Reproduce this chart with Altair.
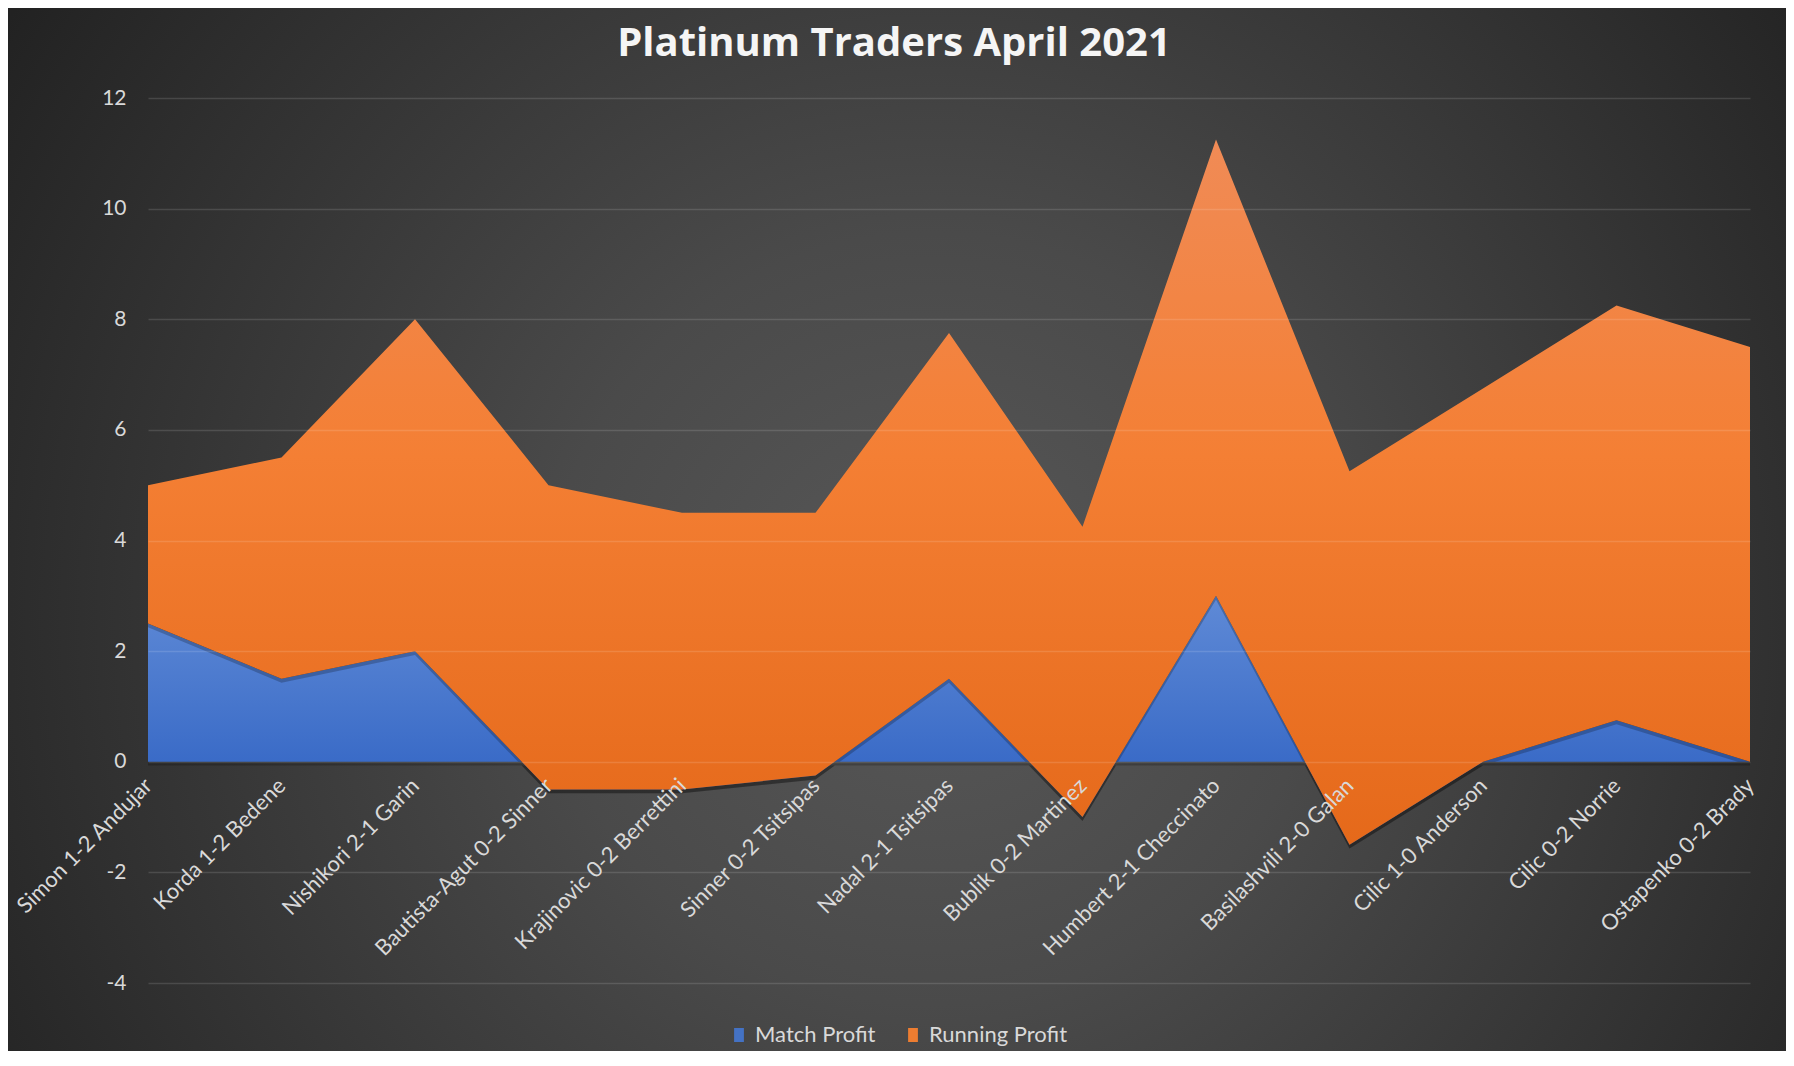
import altair as alt
import pandas as pd

# ---- data ----
categories = [
    "Simon 1-2 Andujar", "Korda 1-2 Bedene", "Nishikori 2-1 Garin",
    "Bautista-Agut 0-2 Sinner", "Krajinovic 0-2 Berrettini", "Sinner 0-2 Tsitsipas",
    "Nadal 2-1 Tsitsipas", "Bublik 0-2 Martinez", "Humbert 2-1 Checcinato",
    "Basilashvili 2-0 Galan", "Cilic 1-0 Anderson", "Cilic 0-2 Norrie",
    "Ostapenko 0-2 Brady",
]
match_profit = [2.5, 1.5, 2, -0.5, -0.5, -0.25, 1.5, -1, 3, -1.5, 0, 0.75, 0]
running_profit = [2.5, 4, 6, 5.5, 5, 4.75, 6.25, 5.25, 8.25, 6.75, 6.75, 7.5, 7.5]
series_names = ["Match Profit", "Running Profit"]
series_colors = ["#4472c4", "#ed7d31"]
y_ticks = [-4, -2, 0, 2, 4, 6, 8, 10, 12]

df = pd.DataFrame({
    "match": categories,
    "match_profit": match_profit,
    "running_profit": running_profit,
})

W, H = 1602, 885
PAD_L, PAD_T, PAD_R, PAD_B = 140, 90, 36, 68
FONT = "Lato"
LABEL = "#d9d9d9"

yscale = alt.Scale(domain=[-4, 12], nice=False, zero=False)
xenc = alt.X(
    "match:N", sort=categories,
    scale=alt.Scale(type="point", padding=0),
    axis=alt.Axis(
        title=None, labelAngle=-45, labelAlign="right", labelBaseline="middle",
        labelPadding=20, labelFontSize=22, labelColor=LABEL, labelFont=FONT,
        ticks=False, domain=False, grid=False, labelOverlap=False, labelLimit=0,
        offset=-(H * 4 / 16), zindex=2,
    ),
)
yaxis = alt.Axis(
    title=None, values=y_ticks, labelFontSize=21, labelColor=LABEL, labelFont=FONT,
    labelExpr="'' + datum.value",
    labelPadding=22, ticks=False, domain=False, grid=True, gridColor="#ffffff",
    gridOpacity=0.13, gridWidth=1.5, zindex=1,
)

base = alt.Chart(df).transform_calculate(
    total="datum.match_profit + datum.running_profit",
    total_sh="datum.match_profit + datum.running_profit - 0.07",
    match_sh="datum.match_profit - 0.07",
    zero_sh="-0.07",
)

bg = alt.Chart(alt.Data(values=[{"a": 1}])).mark_rect(
    fill=alt.Gradient(
        gradient="radial",
        stops=[alt.GradientStop(color="#585858", offset=0),
               alt.GradientStop(color="#4a4a4a", offset=0.35),
               alt.GradientStop(color="#222222", offset=1)],
        x1=0.52, y1=0.55, r1=0, x2=0.52, y2=0.55, r2=0.62,
    )
).encode(
    x=alt.value(-PAD_L), x2=alt.value(W + PAD_R),
    y=alt.value(-PAD_T), y2=alt.value(H + PAD_B),
)

blue_shadow = base.mark_area(color="#000000", opacity=0.22, interpolate="linear").encode(
    x=xenc, y=alt.Y("match_sh:Q", scale=yscale, axis=yaxis), y2="zero_sh:Q",
)
blue = base.mark_area(
    interpolate="linear",
    fill=alt.Gradient(
        gradient="linear",
        stops=[alt.GradientStop(color="#5f8ad6", offset=0),
               alt.GradientStop(color="#3a6bc7", offset=0.67),
               alt.GradientStop(color="#3565c0", offset=1)],
        x1=0, x2=0, y1=0, y2=1,
    ),
).encode(
    x=xenc, y=alt.Y("match_profit:Q", scale=yscale, axis=yaxis), y2=alt.datum(0),
)
orange_shadow = base.mark_area(color="#000000", opacity=0.22, interpolate="linear").encode(
    x=xenc, y=alt.Y("total_sh:Q", scale=yscale, axis=yaxis), y2="match_sh:Q",
)
orange = base.mark_area(
    interpolate="linear",
    fill=alt.Gradient(
        gradient="linear",
        stops=[alt.GradientStop(color="#f08b56", offset=0),
               alt.GradientStop(color="#f47f34", offset=0.45),
               alt.GradientStop(color="#e5691a", offset=1)],
        x1=0, x2=0, y1=0, y2=1,
    ),
).encode(
    x=xenc, y=alt.Y("total:Q", scale=yscale, axis=yaxis), y2="match_profit:Q",
)

legend_layer = alt.Chart(pd.DataFrame({"series": series_names})).mark_square(opacity=0).encode(
    color=alt.Color(
        "series:N",
        scale=alt.Scale(domain=series_names, range=series_colors),
        legend=alt.Legend(
            title=None, orient="none", legendX=580, legendY=926, direction="horizontal",
            symbolType="M-0.7,-1L0.7,-1L0.7,1L-0.7,1Z", symbolSize=196,
            symbolOpacity=1, symbolStrokeWidth=0, labelFontSize=22, labelColor=LABEL,
            labelFont=FONT, labelOffset=5, columnPadding=26,
        ),
    ),
)

chart = alt.layer(bg, blue_shadow, blue, orange_shadow, orange, legend_layer).properties(
    width=W, height=H,
    padding={"left": PAD_L, "top": PAD_T, "right": PAD_R, "bottom": PAD_B},
    autosize=alt.AutoSizeParams(type="none"),
    background="#2e2e2e",
    title=alt.TitleParams(
        "Platinum Traders April 2021", fontSize=40, font="Open Sans", fontWeight="bold",
        color="#f5f5f5", anchor="middle", dx=-55, offset=-76, baseline="middle",
    ),
).configure_view(stroke=None)

chart.save("out.html", embed_options={"renderer": "svg", "actions": False})
